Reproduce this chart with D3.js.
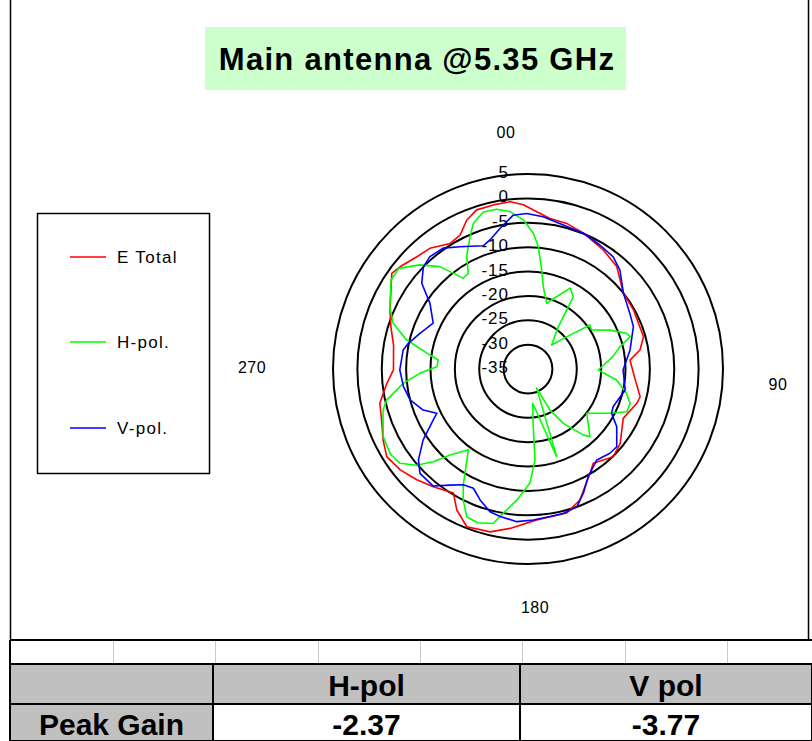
<!DOCTYPE html>
<html><head><meta charset="utf-8">
<script src="https://cdn.jsdelivr.net/npm/d3@7"></script>
<style>
body{margin:0;background:#fff;}
svg{display:block;font-family:"Liberation Sans",Arial,sans-serif;}
</style>
</head><body>
<svg id="c" width="812" height="741"></svg>
<script>
// ---------------- data ----------------
const chartTitle = "Main antenna @5.35 GHz";
const seriesNames = ["E Total", "H-pol.", "V-pol."];
const seriesColors = ["#ff0000", "#00ff00", "#0000ff"];
const ringTicks = [5, 0, -5, -10, -15, -20, -25, -30, -35];
const angleTickLabels = ["00", "90", "180", "270"];
const tableHeaders = ["", "H-pol", "V pol"];
const tableRowLabel = "Peak Gain";
const peakGains = ["-2.37", "-3.77"];

const eTotalAngles = [3.2,8.3,14.9,22.2,32.3,40.9,51.5,60.7,74.4,80.4,85,95,103.9,107.5,117.4,128.9,135.8,145.3,149.3,158.4,165,176.7,186.4,193.1,201.2,206.8,211,218.8,225.1,231.7,238.2,243.9,250.8,257,264.2,269.6,280,287,293.2,305.1,308.6,315.3,320.9,328.2,333.1,337.6,342.1,348.1,353.9,358.4];
const eTotalValues = [-2.7,-3.8,-4.1,-4.9,-6.1,-7.2,-10,-10.2,-10.4,-11.7,-14,-13,-11.3,-11.6,-13,-10.7,-9.9,-11.5,-10.1,-6.1,-4.4,-4,-2.1,-0.7,-0.3,-2.6,-5.3,-4,-2.8,-1.6,-0.9,-1.9,-3.2,-3.8,-5.9,-7.4,-7.0,-5.6,-4.2,-0.85,-1.4,-2.6,-3.1,-4.7,-4.2,-2,-0.7,-0.6,-0.5,-1.3];

const hPolAngles = [2.2,4.8,7.9,10.5,15.9,21.7,27.5,32.1,33.3,35.6,44.6,50.2,54.6,58.5,64.6,70.1,72.4,76.4,82,90.8,97.1,103.8,108.6,113.4,118.4,127,137.5,140,147,151.8,155.7,161.9,172.2,174.8,175.6,179,184.9,189.7,192.7,198.2,202.5,206.3,209.2,216.4,222.2,225.6,229.2,233.6,238.2,244.9,254.2,257.6,263.5,267.7,271.4,275.7,278.1,282.5,283.4,288.7,294.3,303,307.9,313.9,319.3,321.3,324.5,328,331.4,336.3,339.4,344.1,348.9,353.5,358.2];
const hPolValues = [-7.1,-9.8,-14.5,-17.8,-21,-19,-16.3,-17.5,-20.5,-24.3,-28.1,-24.7,-19.4,-19.7,-16.4,-13.5,-13,-15.6,-17.5,-20.6,-16.7,-14.2,-12.9,-12.9,-15.9,-19.9,-16.2,-17.3,-21.7,-25.5,-30.7,-16.1,-27.9,-23.1,-16.3,-11.6,-8,-5,-2.5,-1.8,-2.2,-5,-7.8,-14.4,-11.2,-7.8,-4.8,-2.4,-1.8,-2.2,-4.1,-5.3,-9.3,-12.8,-16.3,-16.5,-14.7,-10.6,-9.4,-5.8,-3.9,-1.5,-1.4,-4.2,-7.3,-9.4,-12.1,-11.9,-8.7,-5.4,-3.1,-1.5,-1.6,-2.5,-4.4];

const vPolAngles = [5.7,13.8,22.2,30.1,37.2,42.9,51.5,61.4,68.1,79.4,90.6,102.2,113.8,117.9,123,131.2,135.8,142.9,146.2,150.8,156,160.5,166.3,171.5,178,184.2,190.7,194.9,200.1,204.6,209.2,213.9,219,226,230.3,235.9,241.7,244.1,248.6,255.3,261.9,269.6,278.7,282.1,288.4,295.8,303.8,308.9,314.3,318.9,324.9,330.9,340,343.6,348.7,354.5,359.5];
const vPolValues = [-3.6,-4.6,-4.9,-5.6,-6.1,-7.3,-10,-11.2,-11.7,-13.7,-15.5,-14.6,-15.9,-15.6,-13.3,-10.8,-10.9,-11.6,-10.9,-9.7,-7.1,-5,-4.5,-4.4,-4,-3.6,-4.2,-4.7,-6.4,-8.1,-7.8,-6.3,-4.1,-4.2,-5.8,-9,-12.9,-14.2,-11.9,-10,-9.2,-8.7,-9.1,-9.9,-11.7,-13.4,-10.8,-7,-5,-4.4,-4.7,-6.3,-8.1,-7.4,-5.6,-3.3,-3.1];

// ---------------- drawing ----------------
const svg = d3.select("#c");
svg.append("rect").attr("width", 812).attr("height", 741).attr("fill", "#fff");

// chart area frame
svg.append("rect").attr("x", 10.5).attr("y", -1).attr("width", 798).attr("height", 641.5)
  .attr("fill", "none").attr("stroke", "#000").attr("stroke-width", 1.5);

// title
svg.append("rect").attr("x", 205).attr("y", 27).attr("width", 421).attr("height", 63).attr("fill", "#ccffcc");
svg.append("text").attr("x", 417).attr("y", 70).attr("text-anchor", "middle")
  .attr("font-size", 31).attr("font-weight", "bold").attr("letter-spacing", 1.3).attr("fill", "#000")
  .text(chartTitle);

// polar
const cx = 528, cy = 369, R = 195;
const r = d3.scaleLinear().domain([-35, 5]).range([0, R]);
const g = svg.append("g").attr("transform", `translate(${cx},${cy})`);

g.selectAll("circle.ring").data(ringTicks.filter(v => v > -35)).join("circle")
  .attr("class", "ring").attr("r", d => r(d)).attr("fill", "none")
  .attr("stroke", "#000").attr("stroke-width", 2);

g.selectAll("text.rl").data(ringTicks).join("text").attr("class", "rl")
  .attr("x", -19).attr("y", d => -r(d) + 4).attr("text-anchor", "end")
  .attr("font-size", 17).attr("letter-spacing", 1).attr("fill", "#000").text(d => d);

const series = [
  {angles: eTotalAngles, values: eTotalValues},
  {angles: hPolAngles, values: hPolValues},
  {angles: vPolAngles, values: vPolValues}
];
const line = d3.lineRadial()
  .angle(d => d[0] * Math.PI / 180)
  .radius(d => r(d[1]))
  .curve(d3.curveLinearClosed);
series.forEach((s, i) => {
  const pts = s.angles.map((a, k) => [a, s.values[k]]);
  g.append("path").attr("d", line(pts)).attr("fill", "none")
    .attr("stroke", seriesColors[i]).attr("stroke-width", 1.6).attr("stroke-linejoin", "round");
});

// angle labels
const angPos = [[506, 138], [778, 390], [535, 613], [252, 373]];
angleTickLabels.forEach((t, i) => {
  svg.append("text").attr("x", angPos[i][0]).attr("y", angPos[i][1]).attr("text-anchor", "middle")
    .attr("font-size", 16).attr("letter-spacing", 0.5).attr("fill", "#000").text(t);
});

// legend
svg.append("rect").attr("x", 37.5).attr("y", 213.5).attr("width", 172).attr("height", 260)
  .attr("fill", "#fff").attr("stroke", "#000").attr("stroke-width", 1.5);
const legY = [257, 342, 428];
seriesNames.forEach((n, i) => {
  svg.append("line").attr("x1", 70).attr("x2", 106).attr("y1", legY[i]).attr("y2", legY[i])
    .attr("stroke", seriesColors[i]).attr("stroke-width", 1.5);
  svg.append("text").attr("x", 117).attr("y", legY[i] + 6).attr("font-size", 17).attr("letter-spacing", 1.3)
    .attr("fill", "#000").text(n);
});

// table
const tg = svg.append("g");
const colX = [10, 213, 520, 812];
tg.append("rect").attr("x", 10).attr("y", 641).attr("width", 802).attr("height", 23).attr("fill", "#fff");
[113, 215, 318, 420, 522, 625, 727].forEach(x => {
  tg.append("line").attr("x1", x + 0.5).attr("x2", x + 0.5).attr("y1", 641).attr("y2", 664)
    .attr("stroke", "#c8c8c8").attr("stroke-width", 1);
});
tg.append("line").attr("x1", 10).attr("x2", 812).attr("y1", 640).attr("y2", 640).attr("stroke", "#000").attr("stroke-width", 2);
tg.append("line").attr("x1", 10).attr("x2", 10).attr("y1", 640).attr("y2", 741).attr("stroke", "#000").attr("stroke-width", 2);
const hy = 664, hh = 40, dy = 704, dh = 37;
for (let c = 0; c < 3; c++) {
  tg.append("rect").attr("x", colX[c]).attr("y", hy).attr("width", colX[c + 1] - colX[c]).attr("height", hh)
    .attr("fill", "#c0c0c0").attr("stroke", "#000").attr("stroke-width", 2);
  tg.append("rect").attr("x", colX[c]).attr("y", dy).attr("width", colX[c + 1] - colX[c]).attr("height", dh)
    .attr("fill", c === 0 ? "#c0c0c0" : "#fff").attr("stroke", "#000").attr("stroke-width", 2);
}
tableHeaders.forEach((t, c) => {
  tg.append("text").attr("x", (colX[c] + colX[c + 1]) / 2).attr("y", hy + 32).attr("text-anchor", "middle")
    .attr("font-size", 30).attr("font-weight", "bold").attr("fill", "#000").text(t);
});
tg.append("text").attr("x", (colX[0] + colX[1]) / 2).attr("y", dy + 31).attr("text-anchor", "middle")
  .attr("font-size", 30).attr("font-weight", "bold").attr("fill", "#000").text(tableRowLabel);
peakGains.forEach((t, i) => {
  tg.append("text").attr("x", (colX[i + 1] + colX[i + 2]) / 2).attr("y", dy + 31).attr("text-anchor", "middle")
    .attr("font-size", 30).attr("font-weight", "bold").attr("fill", "#000").text(t);
});
</script>
</body></html>
